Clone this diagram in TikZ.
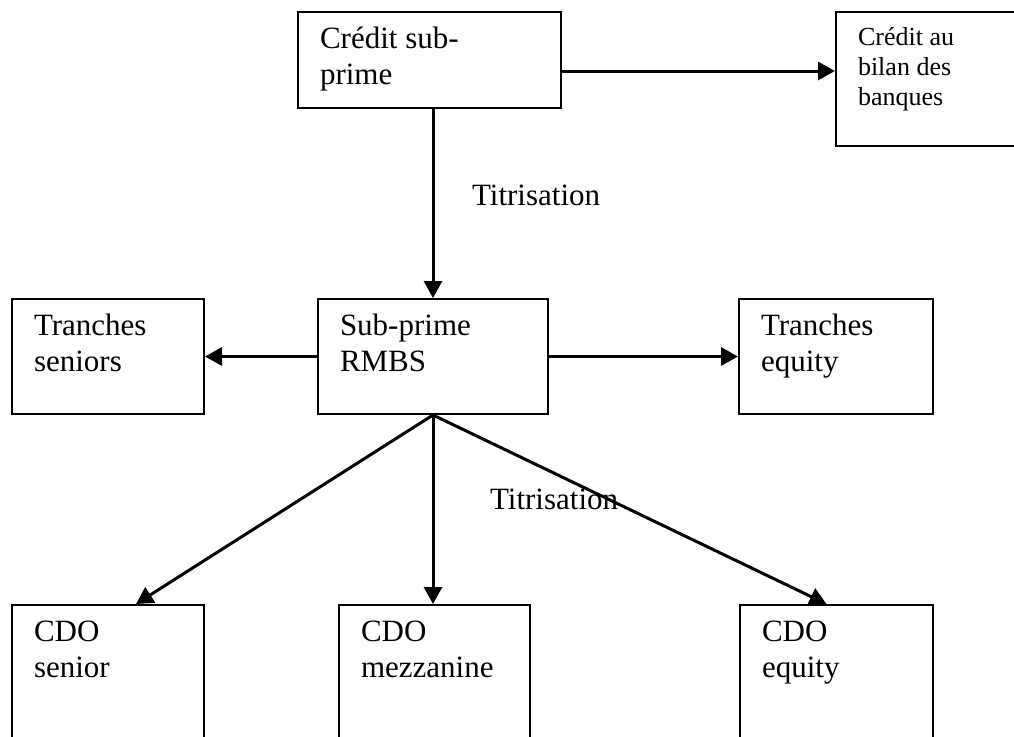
\documentclass[tikz,border=0pt]{standalone}
\usepackage{fontspec}
\setmainfont{Liberation Serif}
\usetikzlibrary{arrows.meta}

\newcommand{\boxtext}[3]{\parbox[c][#2][t]{#1}{\strut#3}}

\tikzset{
  box/.style={draw, line width=1pt, anchor=north west, inner xsep=11pt, inner ysep=6pt, align=left},
  arr/.style={line width=1.5pt, -{Triangle[length=8.5pt,width=9pt]}}
}

\begin{document}
\begin{tikzpicture}[x=0.5pt, y=-0.5pt, font=\fontsize{15.5}{17.8}\selectfont]

\useasboundingbox (0, 0) rectangle (1014, 736);

% top row
\node[box] (cred) at (297, 11) {\boxtext{109.5pt}{36pt}{Crédit sub-\\prime}};
\node[box, font=\fontsize{13}{15}\selectfont] (bilan) at (835, 11) {\boxtext{80.5pt}{55pt}{Crédit au\\bilan des\\banques}};

% middle row
\node[box] (seniors) at (11, 298) {\boxtext{74pt}{45.5pt}{Tranches\\seniors}};
\node[box] (rmbs) at (317, 298) {\boxtext{93pt}{45.5pt}{Sub-prime\\RMBS}};
\node[box] (teq) at (738, 298) {\boxtext{75pt}{45.5pt}{Tranches\\equity}};

% bottom row
\node[box] (cdosen) at (11, 604) {\boxtext{74pt}{63pt}{CDO\\senior}};
\node[box] (cdomez) at (338, 604) {\boxtext{73.5pt}{63pt}{CDO\\mezzanine}};
\node[box] (cdoeq) at (739, 604) {\boxtext{74.5pt}{63pt}{CDO\\equity}};

\node[anchor=west] (tit1) at (465, 195) {Titrisation};
\node[anchor=west] (tit2) at (483, 499) {Titrisation};

\draw[arr] ([yshift=-5.5pt]cred.east) -- ([yshift=4pt]bilan.west);
\draw[arr] (cred.south -| rmbs.north) -- (rmbs.north);
\draw[arr] (rmbs.west) -- (seniors.east);
\draw[arr] (rmbs.east) -- (teq.west);

\draw[arr] (rmbs.south) -- ([xshift=14pt]cdosen.north);
\draw[arr] (rmbs.south) -- (rmbs.south |- cdomez.north);
\draw[arr] (rmbs.south) -- ([xshift=-5pt]cdoeq.north);

\end{tikzpicture}
\end{document}
